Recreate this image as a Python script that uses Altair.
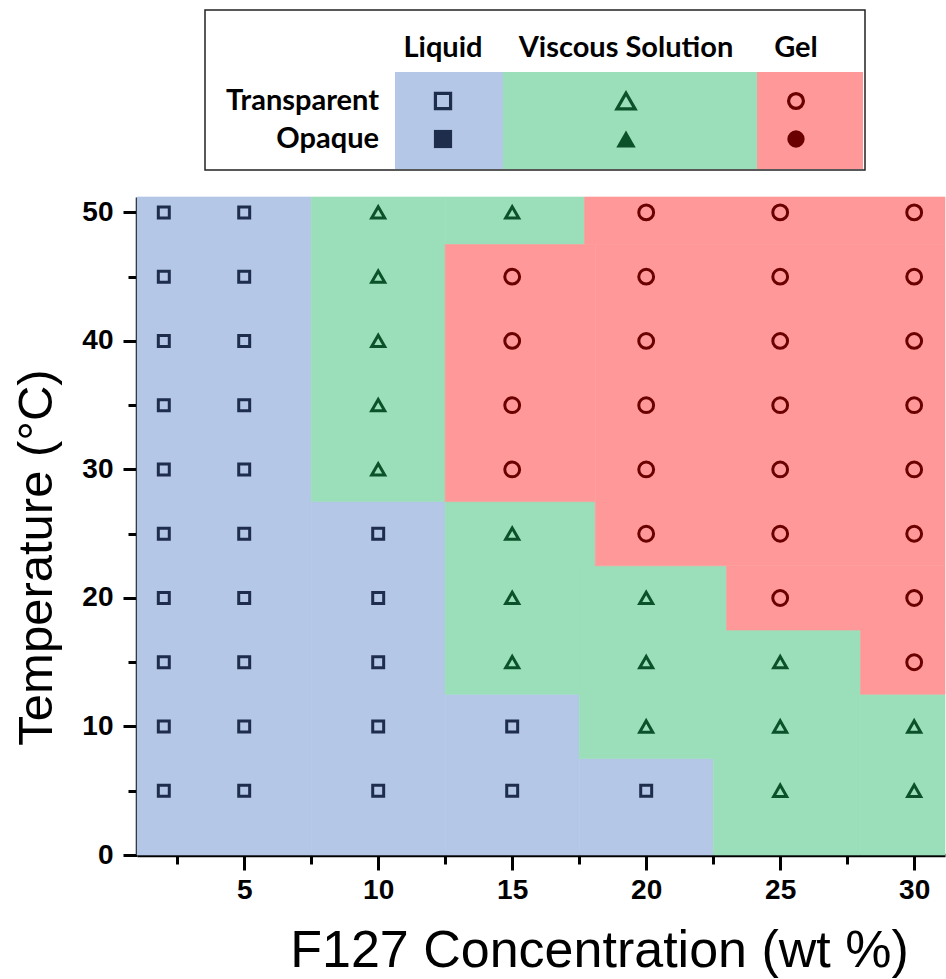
import altair as alt
import pandas as pd

# Observed phase at each F127 concentration (wt %) -> temperatures (°C)
liquid_obs = {
    2: [5, 10, 15, 20, 25, 30, 35, 40, 45, 50],
    5: [5, 10, 15, 20, 25, 30, 35, 40, 45, 50],
    10: [5, 10, 15, 20, 25],
    15: [5, 10],
    20: [5],
}
viscous_obs = {
    10: [30, 35, 40, 45, 50],
    15: [15, 20, 25, 50],
    20: [10, 15, 20],
    25: [5, 10, 15],
    30: [5, 10],
}
gel_obs = {
    15: [30, 35, 40, 45],
    20: [25, 30, 35, 40, 45, 50],
    25: [20, 25, 30, 35, 40, 45, 50],
    30: [15, 20, 25, 30, 35, 40, 45, 50],
}

# Shaded phase regions: concentration span (c1..c2) and temperature span (t1..t2)
liquid_c1 = [1.0, 7.5, 12.5, 17.5]
liquid_c2 = [7.5, 12.5, 17.5, 22.5]
liquid_t1 = [0, 0, 0, 0]
liquid_t2 = [51.2, 27.5, 12.5, 7.5]

viscous_c1 = [7.5, 12.5, 12.5, 17.5, 22.5, 28.0]
viscous_c2 = [12.5, 17.7, 18.1, 23.0, 28.0, 31.15]
viscous_t1 = [27.5, 47.5, 12.5, 7.5, 0, 0]
viscous_t2 = [51.2, 51.2, 27.5, 22.5, 17.5, 12.5]

gel_c1 = [12.5, 17.7, 18.1, 23.0, 28.0]
gel_c2 = [18.1, 31.15, 31.15, 31.15, 31.15]
gel_t1 = [27.5, 47.5, 22.5, 17.5, 12.5]
gel_t2 = [47.5, 51.2, 47.5, 22.5, 17.5]

phases = ["Liquid", "Viscous Solution", "Gel"]
x_major = [5, 10, 15, 20, 25, 30]
x_minor = [2.5, 7.5, 12.5, 17.5, 22.5, 27.5]
y_major = [0, 10, 20, 30, 40, 50]
y_minor = [5, 15, 25, 35, 45]

FILL = {"Liquid": "#b4c7e7", "Viscous Solution": "#9bdfba", "Gel": "#ff9898"}
INK = {"Liquid": "#1e2d4c", "Viscous Solution": "#0b5129", "Gel": "#6a0000"}
SHAPE = {"Liquid": "square", "Viscous Solution": "triangle-up", "Gel": "circle"}
SIZE = {"Liquid": 120, "Viscous Solution": 220, "Gel": 105}

region_rows = []
for name, c1, c2, t1, t2 in [
    ("Liquid", liquid_c1, liquid_c2, liquid_t1, liquid_t2),
    ("Viscous Solution", viscous_c1, viscous_c2, viscous_t1, viscous_t2),
    ("Gel", gel_c1, gel_c2, gel_t1, gel_t2),
]:
    for a, b, lo, hi in zip(c1, c2, t1, t2):
        region_rows.append({"phase": name, "c1": a, "c2": b, "t1": lo, "t2": hi})
regions = pd.DataFrame(region_rows)

point_rows = []
for name, obs in [("Liquid", liquid_obs), ("Viscous Solution", viscous_obs), ("Gel", gel_obs)]:
    for conc, temps in obs.items():
        for t in temps:
            point_rows.append({"phase": name, "conc": conc, "temp": t})
points = pd.DataFrame(point_rows)

xs = alt.Scale(domain=[1, 31.15], nice=False, zero=False)
ys = alt.Scale(domain=[0, 51.2], nice=False, zero=False)
fill_scale = alt.Scale(domain=phases, range=[FILL[p] for p in phases])
ink_scale = alt.Scale(domain=phases, range=[INK[p] for p in phases])
shape_scale = alt.Scale(domain=phases, range=[SHAPE[p] for p in phases])
size_scale = alt.Scale(domain=phases, range=[SIZE[p] for p in phases])

TICK_FONT = "Liberation Sans"

x_axis = alt.Axis(
    values=x_major, title="F127 Concentration (wt %)", grid=False,
    labelFont=TICK_FONT, labelFontWeight="bold", labelFontSize=28, labelColor="black",
    labelPadding=6, tickSize=15, tickWidth=3, tickColor="black",
    domainColor="black", domainWidth=3.5,
    titleFont=TICK_FONT, titleFontWeight="normal", titleFontSize=52, titleColor="black",
    titleX=462, titleY=95, titleAlign="center", titleBaseline="middle",
)
y_axis = alt.Axis(
    values=y_major, title="Temperature (°C)", grid=False,
    labelFont=TICK_FONT, labelFontWeight="bold", labelFontSize=28, labelColor="black",
    labelPadding=10, tickSize=14, tickWidth=3, tickColor="black",
    domainColor="black", domainWidth=3.5,
    titleFont=TICK_FONT, titleFontWeight="normal", titleFontSize=49, titleColor="black",
    titleX=-101, titleY=360, titleAngle=-90, titleAlign="center", titleBaseline="middle",
)
x_minor_axis = alt.Axis(values=x_minor, labels=False, domain=False, grid=False, title=None,
                        tickSize=9, tickWidth=3, tickColor="black", orient="bottom")
y_minor_axis = alt.Axis(values=y_minor, labels=False, domain=False, grid=False, title=None,
                        tickSize=9, tickWidth=3, tickColor="black", orient="left")

region_layer = alt.Chart(regions).mark_rect(strokeWidth=0.6).encode(
    x=alt.X("c1:Q", scale=xs, axis=x_axis),
    x2="c2:Q",
    y=alt.Y("t1:Q", scale=ys, axis=y_axis),
    y2="t2:Q",
    fill=alt.Fill("phase:N", scale=fill_scale, legend=None),
    stroke=alt.Stroke("phase:N", scale=fill_scale, legend=None),
)

point_layer = alt.Chart(points).mark_point(filled=False, strokeWidth=3, opacity=1).encode(
    x=alt.X("conc:Q", scale=xs, axis=None),
    y=alt.Y("temp:Q", scale=ys, axis=None),
    shape=alt.Shape("phase:N", scale=shape_scale, legend=None),
    color=alt.Color("phase:N", scale=ink_scale, legend=None),
    size=alt.Size("phase:N", scale=size_scale, legend=None),
)

minor_layer = alt.Chart(points).mark_point(opacity=0).encode(
    x=alt.X("conc:Q", scale=xs, axis=x_minor_axis),
    y=alt.Y("temp:Q", scale=ys, axis=y_minor_axis),
)

# Key table drawn above the plot area
one = alt.Data(values=[{}])
LEGEND_FONT = "Lato"
KEY_OPEN_SIZE = {"Liquid": 230, "Viscous Solution": 330, "Gel": 220}
KEY_FILLED_SIZE = {"Liquid": 330, "Viscous Solution": 380, "Gel": 300}


def key_rect(x1, x2, y1, y2, fill, stroke=None):
    props = {"fill": fill}
    if stroke:
        props.update(stroke=stroke, strokeWidth=1.5)
    return alt.Chart(one).mark_rect(**props).encode(
        x=alt.value(x1), x2=alt.value(x2), y=alt.value(y1), y2=alt.value(y2))


def key_text(label, x, y, align="center"):
    return alt.Chart(one).mark_text(
        text=label, font=LEGEND_FONT, fontWeight="bold", fontSize=29, color="black",
        align=align, baseline="middle").encode(x=alt.value(x), y=alt.value(y))


def key_symbol(phase, x, y, filled):
    size = KEY_FILLED_SIZE[phase] if filled else KEY_OPEN_SIZE[phase]
    return alt.Chart(one).mark_point(
        shape=SHAPE[phase], filled=filled, color=INK[phase], strokeWidth=3.2, opacity=1,
        size=size,
    ).encode(x=alt.value(x), y=alt.value(y))


key_cols = {"Liquid": (258, 366, 306), "Viscous Solution": (366, 620, 489), "Gel": (620, 726, 659)}
key_layers = [key_rect(68, 728, -187, -27, "white", stroke="#222222")]
for p in phases:
    a, b, cx = key_cols[p]
    key_layers.append(key_rect(a, b, -125, -28, FILL[p]))
    key_layers.append(key_text(p, cx, -149))
    key_layers.append(key_symbol(p, cx, -96, False))
    key_layers.append(key_symbol(p, cx, -58, True))
key_layers.append(key_text("Transparent", 242, -96, align="right"))
key_layers.append(key_text("Opaque", 242, -58, align="right"))

chart = alt.layer(region_layer, minor_layer, point_layer, *key_layers).resolve_axis(
    x="independent", y="independent"
).properties(
    width=808, height=658,
    padding={"left": 137, "top": 197, "right": 1, "bottom": 124},
    autosize=alt.AutoSizeParams(type="none"),
    background="white",
).configure_view(stroke=None)

chart.save("out.html", embed_options={"renderer": "svg", "actions": False})
